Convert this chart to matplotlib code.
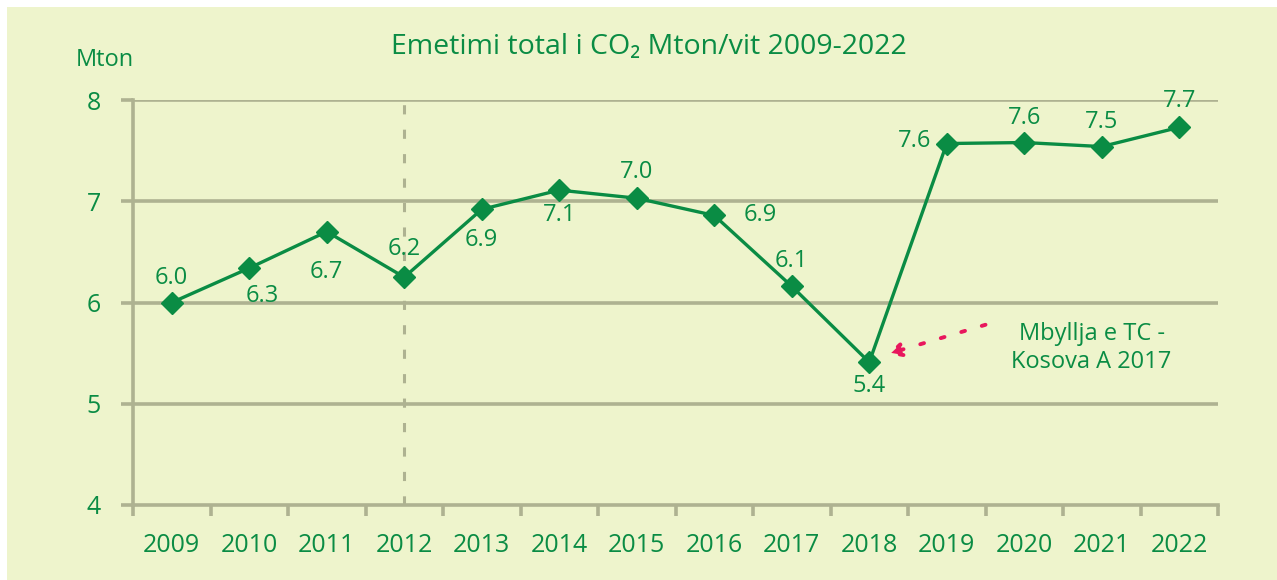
import matplotlib.pyplot as plt
from matplotlib.patches import Rectangle
import numpy as np

plt.rcParams['font.family'] = ['Open Sans', 'DejaVu Sans']

# data
years = ['2009', '2010', '2011', '2012', '2013', '2014', '2015',
         '2016', '2017', '2018', '2019', '2020', '2021', '2022']
emissions = [6.00, 6.34, 6.70, 6.25, 6.92, 7.11, 7.03,
             6.86, 6.16, 5.41, 7.57, 7.58, 7.54, 7.73]
labels = ['6.0', '6.3', '6.7', '6.2', '6.9', '7.1', '7.0',
          '6.9', '6.1', '5.4', '7.6', '7.6', '7.5', '7.7']
# where each value label sits relative to its point (pixels)
label_off = [(0, 24), (13, -28), (0, -40), (0, 28), (0, -31), (0, -25), (0, 26),
             (46, 0), (0, 25), (0, -24), (-32, 3), (0, 25), (0, 25), (0, 26)]

green = '#0A8C44'
grid_c = '#AEB291'
bg = '#EEF4CC'

fig = plt.figure(figsize=(12.77, 5.8), dpi=100)
fig.patch.set_facecolor('white')
fig.patches.append(Rectangle((7 / 1277, 0), 1, 1 - 7 / 580, transform=fig.transFigure,
                             facecolor=bg, edgecolor='none', zorder=-10))

ax = fig.add_axes([133 / 1277, 1 - 505 / 580, (1218 - 133) / 1277, (505 - 100) / 580])
ax.set_facecolor('none')

x = np.arange(len(years))
ax.set_xlim(-0.5, len(years) - 0.5)
ax.set_ylim(4, 8)

for v in [5, 6, 7, 8]:
    ax.axhline(v, color=grid_c, lw=2.6, zorder=1)
ax.axvline(3, color=grid_c, lw=2.2, ls=(0, (3, 5)), zorder=1)

ax.plot(x, emissions, color=green, lw=2.4, marker='D', ms=11.5, zorder=3, clip_on=False)

for xi, yi, lab, (dx, dy) in zip(x, emissions, labels, label_off):
    ax.annotate(lab, (xi, yi), xytext=(dx * 0.72, dy * 0.72), textcoords='offset points',
                ha='center', va='center', color=green, fontsize=17)

for s in ['top', 'right']:
    ax.spines[s].set_visible(False)
for s in ['left', 'bottom']:
    ax.spines[s].set_color(grid_c)
    ax.spines[s].set_linewidth(2.6)

ax.set_yticks([4, 5, 6, 7, 8])
ax.tick_params(axis='y', length=9, width=2.6, color=grid_c, labelcolor=green,
               labelsize=18, pad=14)
ax.set_xticks(x)
ax.set_xticklabels(years)
ax.set_xticks(np.arange(-0.5, len(years)), minor=True)
ax.tick_params(axis='x', which='major', length=0, labelcolor=green, labelsize=18, pad=20)
ax.tick_params(axis='x', which='minor', length=8, width=2.6, color=grid_c)

fig.text(105 / 1277, 1 - 60 / 580, 'Mton', color=green, fontsize=17, ha='center', va='center')
fig.text(649 / 1277, 1 - 47 / 580, 'Emetimi total i CO₂ Mton/vit 2009-2022',
         color=green, fontsize=20.5, ha='center', va='center')

# annotation for the closure of Kosova A
ax.annotate('', xy=(9.23, 5.49), xytext=(10.5, 5.78),
            arrowprops=dict(arrowstyle='-|>', color='#E8175D', lw=2.8, ls=(0, (1, 4.5)),
                            mutation_scale=20, shrinkA=0, shrinkB=0))
ax.text(11.87, 5.55, 'Mbyllja e TC -\nKosova A 2017', color=green, fontsize=17,
        ha='center', va='center', linespacing=1.25)

fig.savefig('out.png', dpi=100, facecolor=fig.get_facecolor())
